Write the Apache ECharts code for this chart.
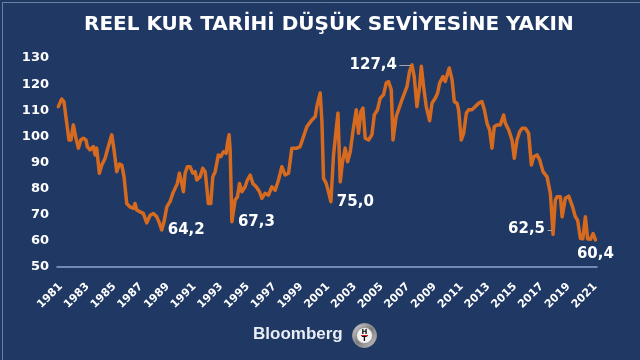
<!DOCTYPE html>
<html>
<head>
<meta charset="utf-8">
<script src="https://cdn.jsdelivr.net/npm/echarts@6/dist/echarts.min.js"></script>
<style>
html,body{margin:0;padding:0;background:#1f3864;}
#c{width:640px;height:360px;}
</style>
</head>
<body>
<div id="c"></div>
<script>
// decimal year positions
const dates = [
1981.10,1981.35,1981.52,1981.73,1981.90,1982.05,1982.22,1982.42,1982.60,1982.78,
1982.97,1983.17,1983.27,1983.47,1983.72,1983.85,1983.97,1984.17,1984.35,1984.60,
1984.84,1985.10,1985.27,1985.47,1985.67,1985.85,1986.02,1986.22,1986.47,1986.72,
1986.84,1986.97,1987.22,1987.46,1987.72,1987.97,1988.21,1988.47,1988.66,1988.84,
1989.01,1989.22,1989.46,1989.67,1989.84,1990.01,1990.16,1990.34,1990.46,1990.59,
1990.76,1990.96,1991.16,1991.34,1991.46,1991.71,1991.91,1992.09,1992.21,1992.33,
1992.51,1992.66,1992.84,1993.08,1993.26,1993.46,1993.66,1993.76,1993.88,1993.96,
1994.09,1994.33,1994.51,1994.66,1994.84,1995.08,1995.25,1995.46,1995.66,1995.91,
1996.16,1996.33,1996.58,1996.83,1997.08,1997.33,1997.58,1997.83,1998.08,1998.33,
1998.58,1998.96,1999.20,1999.45,1999.70,2000.08,2000.33,2000.45,2000.57,2000.70,
2000.83,2000.95,2001.15,2001.32,2001.50,2001.70,2001.88,2002.03,2002.20,2002.37,
2002.57,2002.75,2002.95,2003.15,2003.40,2003.57,2003.75,2003.90,2004.07,2004.32,
2004.57,2004.75,2004.99,2005.19,2005.44,2005.64,2005.82,2006.02,2006.15,2006.39,
2006.82,2007.20,2007.39,2007.57,2007.74,2007.94,2008.14,2008.27,2008.44,2008.64,
2008.89,2009.07,2009.31,2009.49,2009.64,2009.89,2010.06,2010.24,2010.36,2010.57,
2010.74,2010.94,2011.06,2011.26,2011.44,2011.64,2011.81,2012.06,2012.31,2012.56,
2012.81,2012.99,2013.19,2013.38,2013.56,2013.73,2013.94,2014.18,2014.43,2014.56,
2014.81,2015.06,2015.23,2015.43,2015.63,2015.81,2016.06,2016.30,2016.51,2016.68,
2016.93,2017.13,2017.38,2017.68,2017.93,2018.13,2018.30,2018.43,2018.68,2018.81,
2019.05,2019.30,2019.55,2019.80,2019.97,2020.18,2020.36,2020.55,2020.72,2020.93,
2021.13,2021.30
];
// real effective exchange rate index
const values = [
111.4,114.3,113.3,105.0,98.6,98.6,104.4,99.3,95.5,98.6,
99.3,98.6,96.1,94.8,96.1,92.9,95.5,85.9,89.0,91.6,
96.1,100.6,94.8,86.5,89.4,89.0,84.5,74.3,73.0,72.4,
74.3,71.8,71.1,70.5,66.9,69.8,70.5,69.2,66.9,64.2,
67.3,73.0,75.0,78.2,80.1,82.0,85.9,82.0,78.8,85.9,
88.4,88.4,85.9,86.5,83.3,84.5,87.8,86.5,80.7,74.3,
74.3,84.5,86.5,92.9,92.2,94.1,93.5,97.4,100.6,94.8,
67.3,75.6,76.9,82.0,78.8,80.7,83.3,85.2,82.0,80.7,
78.8,76.3,78.2,77.5,80.7,79.4,83.3,88.4,85.2,85.9,
95.5,95.5,96.1,99.9,103.7,106.3,107.6,111.4,114.0,116.6,
105.7,83.9,82.0,78.8,75.0,92.9,101.8,108.9,82.6,90.3,
95.5,90.3,94.1,101.8,110.2,101.2,109.5,110.8,99.3,98.6,
100.6,108.2,110.2,114.6,115.9,120.4,121.0,117.8,98.6,107.6,
114.0,119.1,124.9,127.4,122.9,111.4,119.1,126.8,119.1,111.4,
106.0,112.7,114.6,116.6,120.4,122.9,121.0,124.2,126.2,121.7,
113.3,112.7,110.2,98.6,101.2,108.9,110.2,110.2,111.4,112.7,
113.3,110.2,105.0,102.5,95.5,103.7,104.4,104.4,108.2,105.0,
102.5,98.6,91.6,98.6,101.8,103.1,103.1,101.2,89.0,92.2,
92.9,91.0,86.5,84.5,78.2,62.5,75.6,76.9,76.9,69.2,
76.3,77.1,73.7,69.2,67.9,60.9,60.8,69.2,60.7,60.6,
62.8,60.4
];
// annotated values
const noteDates  = [1988.84, 1994.09, 2001.50, 2007.57, 2018.13, 2021.30];
const noteValues = [64.2, 67.3, 75.0, 127.4, 62.5, 60.4];
const noteLabels = ['64,2', '67,3', '75,0', '127,4', '62,5', '60,4'];
const notePos    = ['right', 'right', 'right', 'left', 'left', 'bottom'];

const baseYear = 1981;
const title = 'REEL KUR TARİHİ DÜŞÜK SEVİYESİNE YAKIN';

const chart = echarts.init(document.getElementById('c'));
const F = 'DejaVu Sans';
const seriesData = dates.map((d, i) => [+(d - baseYear).toFixed(3), values[i]]);
const lastX = seriesData[seriesData.length - 1][0];

const markPts = noteDates.map((d, i) => {
  const lbl = {
    show: true, formatter: noteLabels[i], position: notePos[i],
    color: '#ffffff', fontFamily: F, fontWeight: 'bold', fontSize: 15,
    distance: notePos[i] === 'left' ? (i === 3 ? 14 : 7) : (notePos[i] === 'bottom' ? 6 : 5)
  };
  if (i === 4) lbl.offset = [0, -5];
  return { coord: [+(d - baseYear).toFixed(3), noteValues[i]], label: lbl };
});

const leaders = [
  [{ coord: [+(noteDates[3] - baseYear - 0.95).toFixed(3), noteValues[3]] }, { coord: [+(noteDates[3] - baseYear - 0.1).toFixed(3), noteValues[3]] }],
  [{ coord: [+(noteDates[4] - baseYear - 0.4).toFixed(3), noteValues[4] + 1.5] }, { coord: [+(noteDates[4] - baseYear - 0.1).toFixed(3), noteValues[4] + 1.5] }]
];

chart.setOption({
  backgroundColor: '#1f3864',
  animation: false,
  title: {
    text: title, left: 79, top: 10,
    textStyle: { color: '#ffffff', fontFamily: F, fontWeight: 'bold', fontSize: 20 }
  },
  grid: { left: 57, right: 43, top: 58, bottom: 93, containLabel: false },
  xAxis: {
    type: 'value', min: 0, max: lastX + 0.12, interval: 2,
    axisLine: { show: true, lineStyle: { color: '#8fa6cc', width: 1.5 } },
    axisTick: { show: false },
    splitLine: { show: false },
    axisLabel: {
      rotate: 45, margin: 14, align: 'right', verticalAlign: 'top',
      color: '#ffffff', fontFamily: F, fontWeight: 'bold', fontSize: 11,
      showMaxLabel: false,
      formatter: v => (Math.abs(v - Math.round(v)) < 1e-6 && Math.round(v) % 2 === 0) ? String(baseYear + Math.round(v)) : ''
    }
  },
  yAxis: {
    type: 'value', min: 50, max: 130, interval: 10,
    axisLine: { show: false }, axisTick: { show: false }, splitLine: { show: false },
    axisLabel: { color: '#ffffff', fontFamily: F, fontWeight: 'bold', fontSize: 13, margin: 8 }
  },
  series: [{
    type: 'line', data: seriesData, showSymbol: false, symbol: 'none',
    lineStyle: { color: '#d66a1e', width: 3.5, join: 'round', cap: 'round' },
    markPoint: {
      symbol: 'circle', symbolSize: 2, itemStyle: { color: 'rgba(0,0,0,0)' },
      data: markPts
    },
    markLine: {
      silent: true, symbol: 'none', label: { show: false },
      lineStyle: { color: '#a6a6a6', width: 1, type: 'solid' },
      data: leaders
    }
  }],
  graphic: [
    { type: 'rect', left: 0, top: 0, shape: { x: 0.5, y: 0.5, width: 639, height: 359 }, style: { fill: 'none', stroke: '#6f7fa0', lineWidth: 1 }, silent: true },
    { type: 'text', left: 253, top: 326, style: { text: 'Bloomberg', fill: '#e9edf5', font: 'bold 17px "Liberation Sans", Arial, sans-serif' } },
    { type: 'group', left: 352, top: 323, children: [
      { type: 'circle', shape: { cx: 12, cy: 12, r: 12 }, style: { fill: new echarts.graphic.LinearGradient(0, 0, 1, 1, [{ offset: 0, color: '#e0e0e0' }, { offset: 0.5, color: '#7a7a7a' }, { offset: 1, color: '#cfcfcf' }]), stroke: '#9a9a9a', lineWidth: 1 } },
      { type: 'circle', shape: { cx: 12, cy: 12, r: 8 }, style: { fill: '#f2f2f2', stroke: '#8a8a8a', lineWidth: 0.8 } },
      { type: 'text', x: 12, y: 8.5, style: { text: 'H', fill: '#111', font: 'bold 7px "DejaVu Sans"', align: 'center', verticalAlign: 'middle' } },
      { type: 'rect', shape: { x: 8.5, y: 11.5, width: 7, height: 1.2 }, style: { fill: '#d0202a' } },
      { type: 'text', x: 12, y: 16, style: { text: 'T', fill: '#111', font: 'bold 7px "DejaVu Sans"', align: 'center', verticalAlign: 'middle' } }
    ]}
  ]
});
</script>
</body>
</html>
